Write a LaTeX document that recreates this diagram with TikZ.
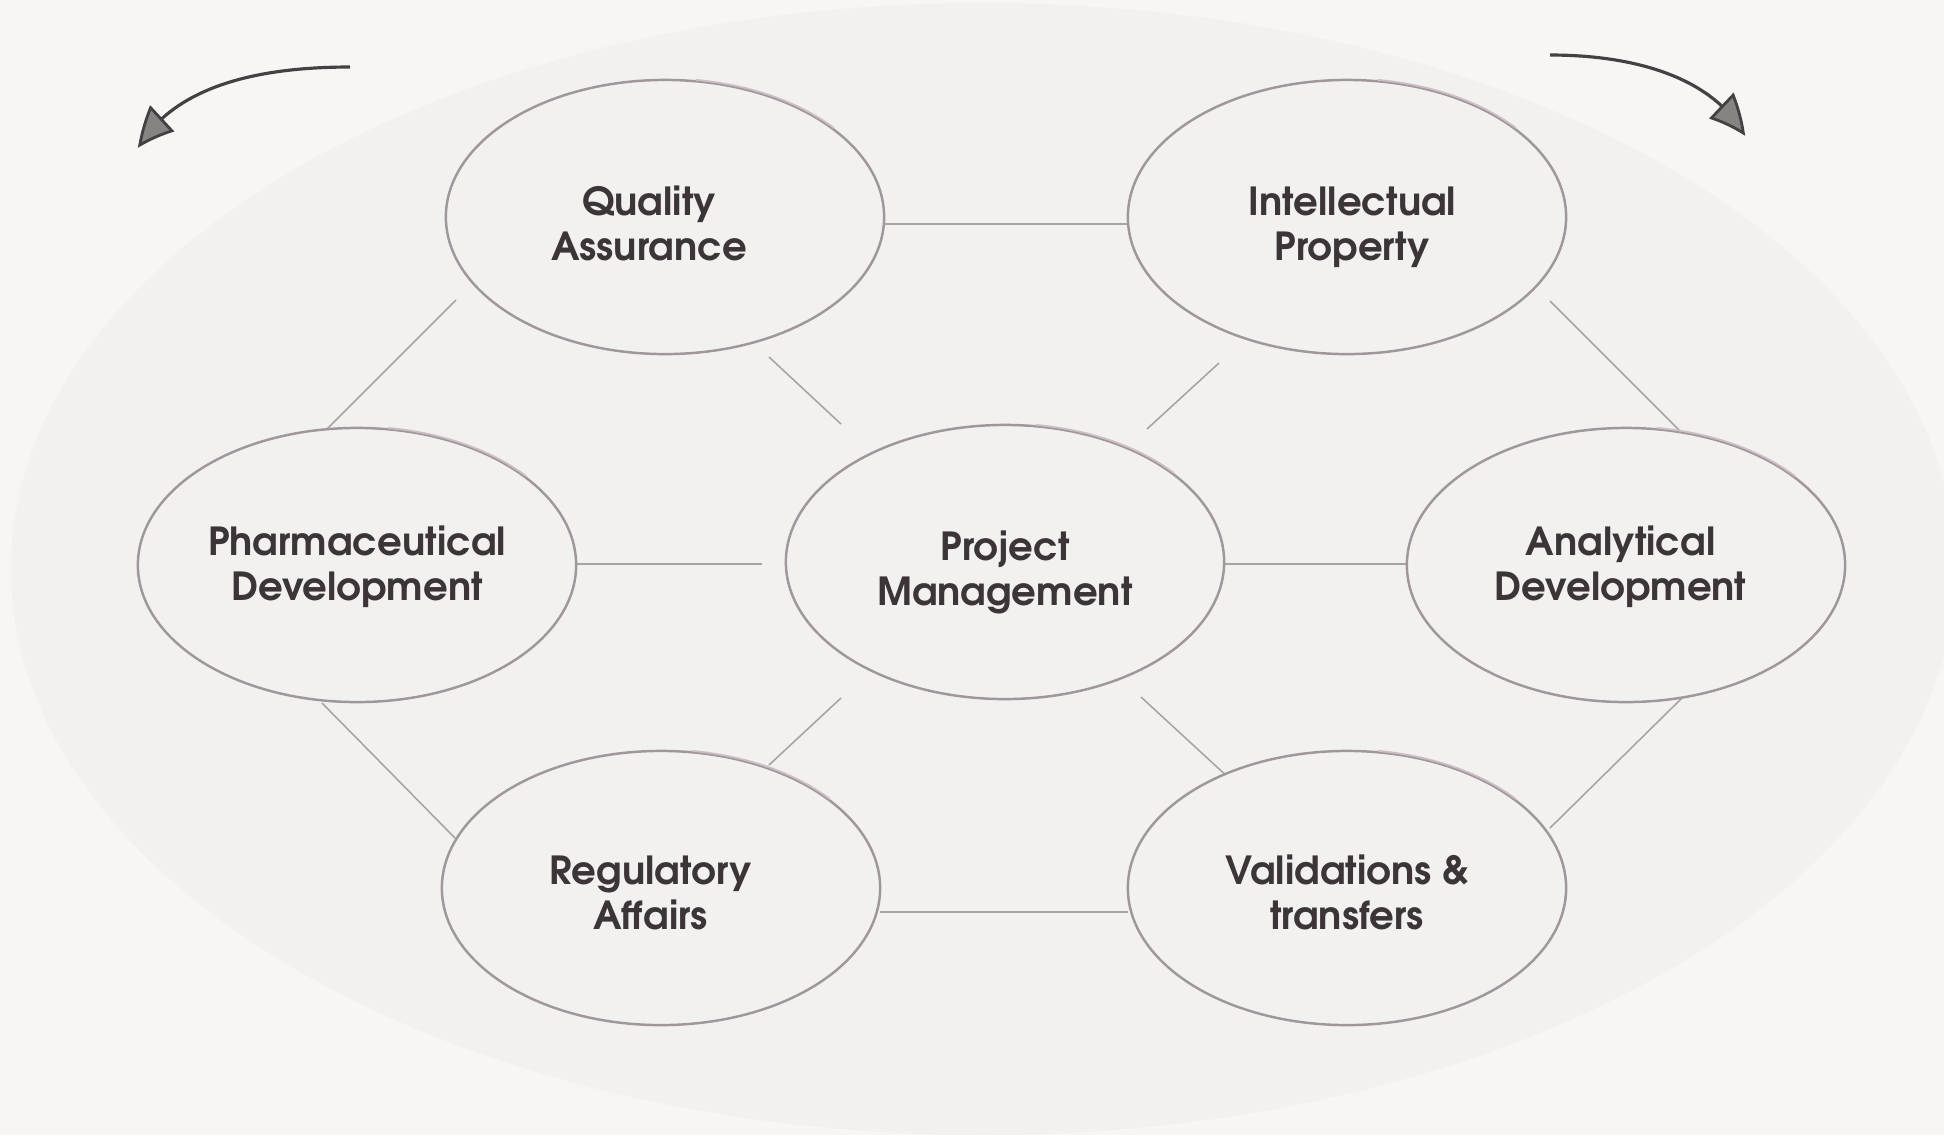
\documentclass[tikz,border=0pt]{standalone}
\usepackage{fontspec}
\newfontfamily\advfont{TeX Gyre Adventor}
\usetikzlibrary{shapes.geometric,arrows.meta,bending}
\definecolor{outerbg}{HTML}{F7F6F5}
\definecolor{innerbg}{HTML}{F2F1F0}
\definecolor{rimcol}{HTML}{A0979A}
\definecolor{ghostcol}{HTML}{CDBFC3}
\definecolor{linkcol}{HTML}{A9A3A4}
\definecolor{txtcol}{HTML}{3B3537}
\definecolor{arrcol}{HTML}{454041}
\newcommand{\topr}[1]{\rule{0pt}{#1}}
\newcommand{\botr}{\rule[-3pt]{0pt}{0pt}}
\newcommand{\padr}[1]{\rule{#1}{0pt}}
\tikzset{
  bubble/.style={ellipse, draw=rimcol, line width=0.7pt, fill=innerbg,
    minimum width=4.38cm, minimum height=2.74cm, inner sep=0pt,
    align=center, text=txtcol,
    font=\advfont\bfseries\fontsize{11}{12.8}\selectfont},
  ghost/.style={draw=ghostcol, line width=0.5pt},
  link/.style={draw=linkcol, line width=0.45pt},
  turn/.style={draw=arrcol, line width=0.9pt,
    -{Triangle[length=11pt,width=10pt,fill=arrcol!65,line width=0.8pt,bend]}}
}
\begin{document}
\begin{tikzpicture}[x=0.01cm,y=-0.01cm]
\useasboundingbox (0,0) rectangle (1944,1135);
\fill[outerbg] (0,0) rectangle (1944,1135);
\fill[innerbg] (983,569) ellipse [x radius=972, y radius=566];

% connectors
\coordinate (c1a) at (884,224);  \coordinate (c1b) at (1128,224);
\coordinate (c2a) at (577,564);  \coordinate (c2b) at (762,564);
\coordinate (c3a) at (1224,564); \coordinate (c3b) at (1407,564);
\coordinate (c4a) at (880,912);  \coordinate (c4b) at (1128,912);
\coordinate (c5a) at (456,300);  \coordinate (c5b) at (322,434);
\coordinate (c6a) at (769,357);  \coordinate (c6b) at (841,424);
\coordinate (c7a) at (1219,363); \coordinate (c7b) at (1147,429);
\coordinate (c8a) at (1550,301); \coordinate (c8b) at (1682,433);
\coordinate (c9a) at (322,703);  \coordinate (c9b) at (455,838);
\coordinate (c10a) at (841,698); \coordinate (c10b) at (769,765);
\coordinate (c11a) at (1141,697);\coordinate (c11b) at (1230,779);
\coordinate (c12a) at (1682,698);\coordinate (c12b) at (1550,828);
\foreach \i in {1,...,12} {\draw[link] (c\i a) -- (c\i b);}

% nodes
\node[bubble] (qa) at (665,217) {\topr{15pt}Quality\padr{9pt}\\Assurance\padr{9pt}\botr};
\node[bubble] (ip) at (1347,217) {\topr{15pt}\padr{3pt}Intellectual\\\padr{3pt}Property\botr};
\node[bubble] (pd) at (357,565) {\topr{10.5pt}Pharmaceutical\\Development\botr};
\node[bubble] (pm) at (1005,562) {\topr{15pt}Project\\Management\botr};
\node[bubble] (ad) at (1626,565) {\topr{10.5pt}Analytical\padr{3pt}\\Development\padr{3pt}\botr};
\node[bubble] (ra) at (661,888) {\topr{14pt}Regulatory\padr{6pt}\\Affairs\padr{6pt}\botr};
\node[bubble] (vt) at (1347,888) {\topr{14pt}Validations \&\\transfers\botr};

% pencil doubling along the upper right of each bubble
\foreach \n in {qa,ip,pd,pm,ad,ra,vt}
  \draw[ghost] (\n.center) ++(-40:220.5 and 138.5)
    arc[start angle=-40, end angle=-82, x radius=220.5, y radius=138.5];

% rotation arrows
\coordinate (la) at (350,67);  \coordinate (lb) at (138,148);
\coordinate (ra1) at (1550,55); \coordinate (rb) at (1745,136);
\draw[turn] (la) .. controls (260,67) and (175,85) .. (lb);
\draw[turn] (ra1) .. controls (1640,55) and (1715,80) .. (rb);
\end{tikzpicture}
\end{document}
